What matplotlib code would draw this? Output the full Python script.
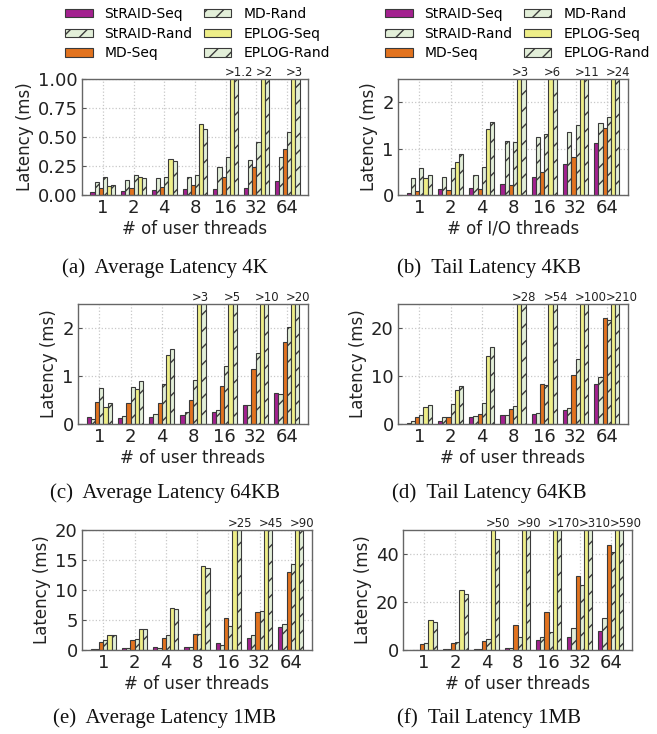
import matplotlib
matplotlib.use("Agg")
import matplotlib.pyplot as plt
from matplotlib.patches import Patch
import numpy as np

plt.rcParams["font.family"] = ["DejaVu Sans"]
plt.rcParams["hatch.linewidth"] = 1.0
plt.rcParams["hatch.color"] = "#202020"

threads = ["1", "2", "4", "8", "16", "32", "64"]
series = ["StRAID-Seq", "StRAID-Rand", "MD-Seq", "MD-Rand", "EPLOG-Seq", "EPLOG-Rand"]

# rows follow `series`; columns follow `threads` (latency in ms)
avg_4k = [
    [0.023, 0.037, 0.046, 0.052, 0.052, 0.063, 0.121],
    [0.115, 0.126, 0.149, 0.158, 0.239, 0.302, 0.325],
    [0.057, 0.057, 0.069, 0.083, 0.155, 0.239, 0.394],
    [0.158, 0.175, 0.158, 0.170, 0.328, 0.454, 0.546],
    [0.078, 0.152, 0.307, 0.609, 1.2, 2.0, 3.0],
    [0.089, 0.147, 0.290, 0.572, 1.2, 2.0, 3.0],
]
tail_4k = [
    [0.036, 0.12, 0.16, 0.23, 0.38, 0.66, 1.11],
    [0.36, 0.39, 0.44, 1.16, 1.26, 1.36, 1.55],
    [0.086, 0.10, 0.12, 0.21, 0.50, 0.81, 1.45],
    [0.59, 0.59, 0.61, 1.15, 1.32, 1.51, 1.68],
    [0.36, 0.71, 1.43, 3.0, 6.0, 11.0, 24.0],
    [0.44, 0.89, 1.58, 3.0, 6.0, 11.0, 24.0],
]
avg_64k = [
    [0.145, 0.125, 0.145, 0.19, 0.26, 0.39, 0.65],
    [0.10, 0.16, 0.21, 0.25, 0.29, 0.39, 0.62],
    [0.46, 0.44, 0.44, 0.50, 0.80, 1.14, 1.71],
    [0.74, 0.78, 0.84, 0.91, 1.20, 1.47, 2.03],
    [0.36, 0.72, 1.43, 3.0, 5.0, 10.0, 20.0],
    [0.44, 0.89, 1.57, 3.0, 5.0, 10.0, 20.0],
]
tail_64k = [
    [0.3, 0.6, 1.45, 1.8, 2.1, 3.0, 8.3],
    [0.6, 1.5, 1.65, 1.8, 2.2, 3.3, 9.8],
    [1.5, 1.5, 2.1, 3.2, 8.4, 10.3, 22.1],
    [1.9, 4.1, 4.4, 3.7, 8.2, 13.5, 21.6],
    [3.5, 7.0, 14.1, 28.0, 54.0, 100.0, 210.0],
    [4.0, 8.0, 16.1, 28.0, 54.0, 100.0, 210.0],
]
avg_1m = [
    [0.1, 0.28, 0.5, 0.45, 1.1, 1.95, 3.8],
    [0.1, 0.28, 0.28, 0.45, 0.9, 2.45, 4.3],
    [1.4, 1.6, 1.95, 2.6, 5.3, 6.3, 12.95],
    [1.6, 1.9, 2.45, 2.6, 3.95, 6.45, 14.3],
    [2.45, 3.55, 7.0, 14.0, 25.0, 45.0, 90.0],
    [2.5, 3.45, 6.8, 13.65, 25.0, 45.0, 90.0],
]
tail_1m = [
    [0.15, 0.3, 0.4, 0.8, 4.1, 5.5, 7.9],
    [0.15, 0.3, 0.4, 0.8, 5.4, 9.0, 13.5],
    [2.5, 2.8, 3.7, 10.5, 15.7, 31.0, 43.7],
    [3.0, 3.4, 4.7, 5.6, 7.3, 27.0, 41.0],
    [12.4, 24.8, 50.0, 90.0, 170.0, 310.0, 590.0],
    [11.7, 23.2, 46.3, 90.0, 170.0, 310.0, 590.0],
]

# text written above bars that run past the top of the axis
avg_4k_over = ["", "", "", "", ">1.2", ">2", ">3"]
tail_4k_over = ["", "", "", ">3", ">6", ">11", ">24"]
avg_64k_over = ["", "", "", ">3", ">5", ">10", ">20"]
tail_64k_over = ["", "", "", ">28", ">54", ">100", ">210"]
avg_1m_over = ["", "", "", "", ">25", ">45", ">90"]
tail_1m_over = ["", "", ">50", ">90", ">170", ">310", ">590"]

captions = [
    "(a)  Average Latency 4K", "(b)  Tail Latency 4KB",
    "(c)  Average Latency 64KB", "(d)  Tail Latency 64KB",
    "(e)  Average Latency 1MB", "(f)  Tail Latency 1MB",
]

PURPLE = "#a3218f"
ORANGE = "#e2731f"
YELLOW = "#eeee88"
PALE = "#e3efd9"
styles = [
    dict(color=PURPLE, hatch=None),
    dict(color=PALE, hatch="//"),
    dict(color=ORANGE, hatch=None),
    dict(color=PALE, hatch="//"),
    dict(color=YELLOW, hatch=None),
    dict(color=PALE, hatch="//"),
]

W, H = 657, 734
fig = plt.figure(figsize=(W / 100, H / 100), dpi=100)


def rect(left, top, right, bottom):
    return [left / W, 1 - bottom / H, (right - left) / W, (bottom - top) / H]


panels = [
    dict(data=avg_4k, over=avg_4k_over, ylim=1.0, yticks=[0, 0.25, 0.5, 0.75, 1.0],
         fmt="{:.2f}", xlabel="# of user threads", box=rect(82, 79, 308, 195)),
    dict(data=tail_4k, over=tail_4k_over, ylim=2.5, yticks=[0, 1, 2],
         fmt="{:g}", xlabel="# of I/O threads", box=rect(398, 79, 628, 195)),
    dict(data=avg_64k, over=avg_64k_over, ylim=2.5, yticks=[0, 1, 2],
         fmt="{:g}", xlabel="# of user threads", box=rect(78, 304, 308, 424)),
    dict(data=tail_64k, over=tail_64k_over, ylim=25, yticks=[0, 10, 20],
         fmt="{:g}", xlabel="# of user threads", box=rect(398, 304, 628, 424)),
    dict(data=avg_1m, over=avg_1m_over, ylim=20, yticks=[0, 5, 10, 15, 20],
         fmt="{:g}", xlabel="# of user threads", box=rect(82, 530, 312, 650)),
    dict(data=tail_1m, over=tail_1m_over, ylim=50, yticks=[0, 20, 40],
         fmt="{:g}", xlabel="# of user threads", box=rect(403, 530, 632, 650)),
]

bw = 0.135
x = np.arange(len(threads))

for p in panels:
    ax = fig.add_axes(p["box"])
    ax.set_axisbelow(True)
    for k, vals in enumerate(p["data"]):
        st = styles[k]
        ax.bar(x + (k - 2.5) * bw, vals, width=bw, color=st["color"],
               hatch=st["hatch"], edgecolor="#3a3a3a", linewidth=0.8)
    for i, t in enumerate(p["over"]):
        if t:
            ax.text(i - 0.03, p["ylim"], t, ha="left", va="bottom",
                    fontsize=8.4, color="#222222", clip_on=False)
    ax.set_xlim(-0.68, 6.68)
    ax.set_ylim(0, p["ylim"])
    ax.set_xticks(x)
    ax.set_xticklabels(threads)
    ax.set_yticks(p["yticks"])
    ax.set_yticklabels([p["fmt"].format(v) for v in p["yticks"]])
    ax.tick_params(direction="in", length=3, width=0.8, colors="#555555",
                   labelcolor="#222222", labelsize=13, pad=3)
    ax.grid(True, linestyle=":", color="#c8c8c8", linewidth=0.9)
    for s in ax.spines.values():
        s.set_color("#666666")
        s.set_linewidth(1.0)
    ax.set_xlabel(p["xlabel"], fontsize=12, color="#222222", labelpad=2)
    ax.set_ylabel("Latency (ms)", fontsize=12, color="#222222", labelpad=3)

# sub-captions under each panel
cap_pos = [(165, 268), (489, 268), (165, 493), (489, 493), (165, 718), (489, 718)]
for (cx, cy), c in zip(cap_pos, captions):
    fig.text(cx / W, 1 - cy / H, c, ha="center", va="center",
             fontsize=15, family="Liberation Serif", color="#111111")

handles = [Patch(facecolor=s["color"], hatch=s["hatch"], edgecolor="#3a3a3a",
                 linewidth=0.8, label=n) for s, n in zip(styles, series)]
for lx in (62, 382):
    fig.legend(handles=handles, ncol=2, loc="upper left",
               bbox_to_anchor=(lx / W, 1 - 4 / H), frameon=False,
               fontsize=10, handlelength=2.0, handleheight=0.55,
               handletextpad=0.85, columnspacing=0.8, labelspacing=0.42,
               borderaxespad=0, borderpad=0.2)

fig.savefig("out.png", dpi=100)
